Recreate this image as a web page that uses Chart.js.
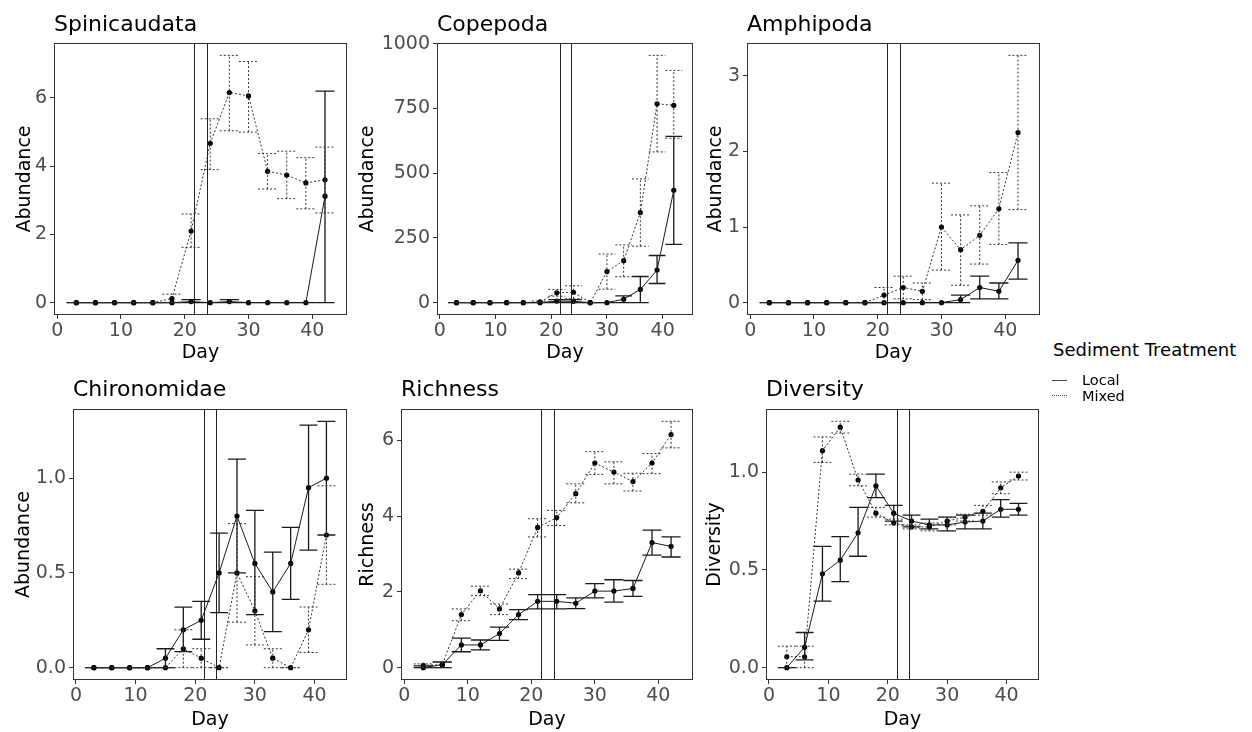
<!DOCTYPE html>
<html>
<head>
<meta charset="utf-8">
<script src="https://cdn.jsdelivr.net/npm/chart.js@4/dist/chart.umd.min.js"></script>
<style>
  body { margin: 0; background: #fff; width: 1252px; height: 732px; position: relative; overflow: hidden;
         font-family: "DejaVu Sans", sans-serif; }
  canvas { position: absolute; }
  .ttl { position: absolute; font-size: 22px; line-height: 22px; color: #000; white-space: nowrap; }
  .leg { position: absolute; color: #000; white-space: nowrap; }
  .key { position: absolute; width: 15px; height: 0; border-top: 1px solid #444; }
</style>
</head>
<body>

<script>
// sampling days and the two marker days
const days = [3, 6, 9, 12, 15, 18, 21, 24, 27, 30, 33, 36, 39, 42];
const markDays = [21.5, 23.5];
const xTicks = [0, 10, 20, 30, 40];

// Spinicaudata
const spinLocal   = [0, 0, 0, 0, 0, 0, 0.03, 0, 0.03, 0, 0, 0, 0, 3.12];
const spinLocalLo = [0, 0, 0, 0, 0, 0, 0, 0, 0, 0, 0, 0, 0, 0];
const spinLocalHi = [0, 0, 0, 0, 0, 0, 0.09, 0, 0.09, 0, 0, 0, 0, 6.2];
const spinMixed   = [0, 0, 0, 0, 0, 0.12, 2.1, 4.67, 6.16, 6.06, 3.85, 3.74, 3.51, 3.6];
const spinMixedLo = [0, 0, 0, 0, 0, 0, 1.62, 3.9, 5.04, 5.0, 3.33, 3.05, 2.75, 2.63];
const spinMixedHi = [0, 0, 0, 0, 0, 0.25, 2.6, 5.39, 7.25, 7.07, 4.37, 4.44, 4.25, 4.56];

// Copepoda
const copeLocal   = [0, 0, 0, 0, 0, 0, 6, 5, 0, 0, 13, 51, 126, 434];
const copeLocalLo = [0, 0, 0, 0, 0, 0, 0, 0, 0, 0, 0, 0, 74, 225];
const copeLocalHi = [0, 0, 0, 0, 0, 0, 12, 12, 0, 0, 26, 101, 182, 642];
const copeMixed   = [0, 0, 0, 0, 0, 3, 38, 40, 0, 120, 162, 348, 768, 762];
const copeMixedLo = [0, 0, 0, 0, 0, 0, 25, 15, 0, 52, 100, 218, 582, 635];
const copeMixedHi = [0, 0, 0, 0, 0, 6, 51, 65, 0, 188, 223, 478, 955, 897];

// Amphipoda
const amphLocal   = [0, 0, 0, 0, 0, 0, 0, 0, 0, 0, 0.04, 0.2, 0.15, 0.56];
const amphLocalLo = [0, 0, 0, 0, 0, 0, 0, 0, 0, 0, 0, 0.05, 0.05, 0.31];
const amphLocalHi = [0, 0, 0, 0, 0, 0, 0, 0, 0, 0, 0.1, 0.35, 0.26, 0.79];
const amphMixed   = [0, 0, 0, 0, 0, 0, 0.1, 0.2, 0.15, 1.0, 0.7, 0.89, 1.24, 2.25];
const amphMixedLo = [0, 0, 0, 0, 0, 0, 0, 0.05, 0.04, 0.43, 0.23, 0.51, 0.77, 1.23];
const amphMixedHi = [0, 0, 0, 0, 0, 0, 0.2, 0.35, 0.26, 1.58, 1.16, 1.28, 1.72, 3.27];

// Chironomidae
const chirLocal   = [0, 0, 0, 0, 0.05, 0.2, 0.25, 0.5, 0.8, 0.55, 0.4, 0.55, 0.95, 1.0];
const chirLocalLo = [0, 0, 0, 0, 0, 0.085, 0.15, 0.29, 0.5, 0.28, 0.19, 0.36, 0.62, 0.7];
const chirLocalHi = [0, 0, 0, 0, 0.1, 0.32, 0.35, 0.71, 1.1, 0.83, 0.61, 0.74, 1.28, 1.3];
const chirMixed   = [0, 0, 0, 0, 0, 0.1, 0.05, 0, 0.5, 0.3, 0.05, 0, 0.2, 0.7];
const chirMixedLo = [0, 0, 0, 0, 0, 0, 0, 0, 0.24, 0.12, 0, 0, 0.08, 0.44];
const chirMixedHi = [0, 0, 0, 0, 0, 0.2, 0.1, 0, 0.76, 0.48, 0.1, 0, 0.32, 0.96];

// Richness
const richLocal   = [0, 0.08, 0.6, 0.6, 0.9, 1.4, 1.75, 1.75, 1.7, 2.02, 2.02, 2.09, 3.3, 3.2];
const richLocalLo = [0, 0, 0.42, 0.47, 0.72, 1.27, 1.55, 1.55, 1.56, 1.84, 1.73, 1.88, 2.97, 2.92];
const richLocalHi = [0.05, 0.15, 0.78, 0.73, 1.07, 1.53, 1.93, 1.93, 1.84, 2.22, 2.32, 2.3, 3.63, 3.45];
const richMixed   = [0.06, 0.08, 1.4, 2.03, 1.55, 2.5, 3.7, 3.96, 4.59, 5.4, 5.16, 4.91, 5.4, 6.15];
const richMixedLo = [0, 0, 1.24, 1.9, 1.4, 2.35, 3.45, 3.75, 4.35, 5.1, 4.85, 4.66, 5.12, 5.8];
const richMixedHi = [0.1, 0.15, 1.55, 2.15, 1.68, 2.6, 3.93, 4.15, 4.85, 5.7, 5.43, 5.13, 5.65, 6.5];

// Diversity
const divLocal   = [0, 0.105, 0.48, 0.55, 0.69, 0.93, 0.79, 0.75, 0.73, 0.73, 0.745, 0.75, 0.81, 0.81];
const divLocalLo = [0, 0.04, 0.34, 0.44, 0.57, 0.87, 0.75, 0.72, 0.71, 0.70, 0.71, 0.71, 0.77, 0.78];
const divLocalHi = [0, 0.18, 0.62, 0.67, 0.82, 0.99, 0.83, 0.78, 0.76, 0.77, 0.78, 0.79, 0.86, 0.84];
const divMixed   = [0.056, 0.056, 1.11, 1.23, 0.96, 0.79, 0.74, 0.72, 0.72, 0.75, 0.77, 0.8, 0.92, 0.98];
const divMixedLo = [0, 0, 1.05, 1.2, 0.93, 0.77, 0.73, 0.71, 0.70, 0.73, 0.75, 0.78, 0.89, 0.96];
const divMixedHi = [0.11, 0.11, 1.18, 1.26, 0.99, 0.82, 0.76, 0.73, 0.74, 0.77, 0.785, 0.83, 0.95, 1.0];

// panel layout: canvas = [left, top, width, height], box = plot area [l, t, r, b]
const panels = [
  { title: 'Spinicaudata', ytitle: 'Abundance', yTicks: [0, 2, 4, 6], dec: 0,
    local: [spinLocal, spinLocalLo, spinLocalHi], mixed: [spinMixed, spinMixedLo, spinMixedHi],
    canvas: [0, 0, 355, 370], box: [54, 43, 347, 315], ytx: 25, xtb: 7.5 },
  { title: 'Copepoda', ytitle: 'Abundance', yTicks: [0, 250, 500, 750, 1000], dec: 0,
    local: [copeLocal, copeLocalLo, copeLocalHi], mixed: [copeMixed, copeMixedLo, copeMixedHi],
    canvas: [355, 0, 345, 370], box: [437, 43, 693, 315], ytx: 368, xtb: 7.5 },
  { title: 'Amphipoda', ytitle: 'Abundance', yTicks: [0, 1, 2, 3], dec: 0,
    local: [amphLocal, amphLocalLo, amphLocalHi], mixed: [amphMixed, amphMixedLo, amphMixedHi],
    canvas: [700, 0, 350, 370], box: [747, 43, 1040, 315], ytx: 716, xtb: 7.5 },
  { title: 'Chironomidae', ytitle: 'Abundance', yTicks: [0, 0.5, 1], dec: 1,
    local: [chirLocal, chirLocalLo, chirLocalHi], mixed: [chirMixed, chirMixedLo, chirMixedHi],
    canvas: [0, 370, 355, 362], box: [73, 409, 347, 680], ytx: 24, xtb: 2.8 },
  { title: 'Richness', ytitle: 'Richness', yTicks: [0, 2, 4, 6], dec: 0,
    local: [richLocal, richLocalLo, richLocalHi], mixed: [richMixed, richMixedLo, richMixedHi],
    canvas: [355, 370, 345, 362], box: [401, 409, 693, 680], ytx: 368, xtb: 2.8 },
  { title: 'Diversity', ytitle: 'Diversity', yTicks: [0, 0.5, 1], dec: 1,
    local: [divLocal, divLocalLo, divLocalHi], mixed: [divMixed, divMixedLo, divMixedHi],
    canvas: [700, 370, 350, 362], box: [766, 409, 1039, 680], ytx: 715, xtb: 2.8 },
];

const CAP = 1.5;  // half width of error bar caps, in days
const FONT = '"DejaVu Sans", sans-serif';

// error bars drawn from errLo / errHi on each dataset
const errorBars = {
  id: 'errorBars',
  afterDatasetsDraw(chart) {
    const ctx = chart.ctx;
    const xs = chart.scales.x, ys = chart.scales.y;
    chart.data.datasets.forEach(ds => {
      ctx.save();
      ctx.strokeStyle = ds.barColor;
      ctx.lineWidth = ds.barWidth;
      ctx.setLineDash(ds.borderDash || []);
      ds.data.forEach((p, i) => {
        const x = xs.getPixelForValue(p.x);
        const x0 = xs.getPixelForValue(p.x - CAP), x1 = xs.getPixelForValue(p.x + CAP);
        const yl = ys.getPixelForValue(ds.errLo[i]), yh = ys.getPixelForValue(ds.errHi[i]);
        ctx.beginPath();
        ctx.moveTo(x, yl); ctx.lineTo(x, yh);
        ctx.moveTo(x0, yl); ctx.lineTo(x1, yl);
        ctx.moveTo(x0, yh); ctx.lineTo(x1, yh);
        ctx.stroke();
      });
      ctx.restore();
    });
  }
};

// vertical marker lines + panel border
const frame = {
  id: 'frame',
  beforeDatasetsDraw(chart) {
    const ctx = chart.ctx, a = chart.chartArea, xs = chart.scales.x;
    ctx.save();
    ctx.strokeStyle = '#222';
    ctx.lineWidth = 1;
    markDays.forEach(d => {
      const x = Math.round(xs.getPixelForValue(d)) + 0.5;
      ctx.beginPath();
      ctx.moveTo(x, a.top); ctx.lineTo(x, a.bottom);
      ctx.stroke();
    });
    ctx.restore();
  },
  afterDraw(chart) {
    const ctx = chart.ctx, a = chart.chartArea;
    ctx.save();
    ctx.strokeStyle = '#333';
    ctx.lineWidth = 1;
    ctx.strokeRect(Math.round(a.left) + 0.5, Math.round(a.top) + 0.5,
                   Math.round(a.right - a.left) - 1, Math.round(a.bottom - a.top) - 1);
    ctx.restore();
  }
};

function makeSeries(vals, lo, hi, dashed) {
  return {
    data: days.map((d, i) => ({ x: d, y: vals[i] })),
    errLo: lo, errHi: hi,
    showLine: true,
    borderColor: dashed ? '#333' : '#1a1a1a',
    barColor: dashed ? '#333' : '#1a1a1a',
    barWidth: dashed ? 1 : 1.3,
    borderWidth: 1,
    borderDash: dashed ? [2, 2] : [],
    pointRadius: 2.6,
    pointBackgroundColor: '#000',
    pointBorderWidth: 0,
    tension: 0
  };
}

panels.forEach(p => {
  const [cx, cy, cw, ch] = p.canvas;
  const [L, T, R, B] = p.box;

  const cv = document.createElement('canvas');
  cv.width = cw; cv.height = ch;
  cv.style.left = cx + 'px'; cv.style.top = cy + 'px';
  document.body.appendChild(cv);

  const t = document.createElement('div');
  t.className = 'ttl';
  t.textContent = p.title;
  t.style.left = L + 'px';
  t.style.top = (cy === 0 ? 13 : 378) + 'px';
  document.body.appendChild(t);

  // ggplot style 5% expansion of the data range
  const allHi = p.local[2].concat(p.mixed[2]);
  const top = Math.max(...allHi);
  const yMin = -0.05 * top, yMax = top * 1.05;

  new Chart(cv.getContext('2d'), {
    type: 'scatter',
    data: {
      datasets: [
        makeSeries(p.local[0], p.local[1], p.local[2], false),
        makeSeries(p.mixed[0], p.mixed[1], p.mixed[2], true)
      ]
    },
    options: {
      responsive: false,
      animation: false,
      devicePixelRatio: 1,
      layout: { padding: { left: 0, top: T - cy, right: cx + cw - R, bottom: 0 } },
      plugins: { legend: { display: false }, tooltip: { enabled: false } },
      scales: {
        x: {
          type: 'linear', min: -0.5, max: 45.45,
          afterBuildTicks: s => { s.ticks = xTicks.map(v => ({ value: v })); },
          afterFit: s => { s.height = cy + ch - B; },
          grid: { drawOnChartArea: false, drawTicks: true, tickLength: 4, color: '#333' },
          border: { display: false },
          ticks: { color: '#4d4d4d', font: { family: FONT, size: 19 }, padding: 1,
                   autoSkip: false, maxRotation: 0, callback: v => String(v) },
          title: { display: true, text: 'Day', color: '#000',
                   font: { family: FONT, size: 19, lineHeight: 1 }, padding: { top: 0, bottom: p.xtb } }
        },
        y: {
          type: 'linear', min: yMin, max: yMax,
          afterBuildTicks: s => { s.ticks = p.yTicks.map(v => ({ value: v })); },
          afterFit: s => { s.width = L - cx; },
          grid: { drawOnChartArea: false, drawTicks: true, tickLength: 4, color: '#333' },
          border: { display: false },
          ticks: { color: '#4d4d4d', font: { family: FONT, size: 19 }, padding: 3,
                   callback: v => Number(v).toFixed(p.dec) },
          title: { display: true, text: p.ytitle, color: '#000',
                   font: { family: FONT, size: 19, lineHeight: 1 }, padding: { top: p.ytx - cx - 9.5, bottom: 0 } }
        }
      }
    },
    plugins: [frame, errorBars]
  });
});
</script>

<div class="leg" style="left:1053px; top:339px; font-size:18px; line-height:22px;">Sediment Treatment</div>
<div class="key" style="left:1052px; top:380px;"></div>
<div class="leg" style="left:1082px; top:372px; font-size:14.5px; line-height:16px;">Local</div>
<div class="key" style="left:1052px; top:395px; border-top-style:dotted;"></div>
<div class="leg" style="left:1082px; top:388px; font-size:14.5px; line-height:16px;">Mixed</div>

</body>
</html>
